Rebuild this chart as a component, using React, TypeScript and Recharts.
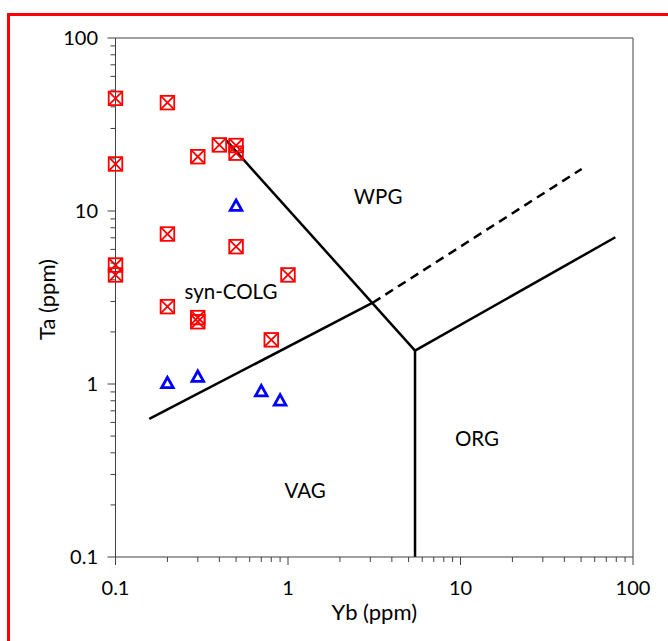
import React from 'react';
import { ScatterChart, Scatter, XAxis, YAxis, ReferenceLine, ReferenceDot } from 'recharts';

const FONT = 'Lato, "Open Sans", sans-serif';
const AXIS = '#404040';

// tick values
const majorTicks = [0.1, 1, 10, 100];
const minorTicks = [0.2, 0.3, 0.4, 0.5, 0.6, 0.7, 0.8, 0.9, 2, 3, 4, 5, 6, 7, 8, 9, 20, 30, 40, 50, 60, 70, 80, 90];
const allTicks = [...majorTicks, ...minorTicks].sort((a, b) => a - b);
const tickLabels = ['0.1', '1', '10', '100'];

// sample series (red boxed crosses)
const redYb = [0.1, 0.1, 0.1, 0.1, 0.2, 0.2, 0.2, 0.3, 0.3, 0.3, 0.4, 0.5, 0.5, 0.5, 1.0, 0.8];
const redTa = [44.8, 18.7, 4.87, 4.27, 42.3, 7.36, 2.8, 20.6, 2.42, 2.29, 24.1, 23.9, 21.6, 6.22, 4.27, 1.8];

// sample series (blue triangles)
const blueYb = [0.5, 0.2, 0.3, 0.7, 0.9];
const blueTa = [10.8, 1.02, 1.11, 0.915, 0.81];

// field boundaries
const vagColgX = [0.157, 3.1];
const vagColgY = [0.628, 2.95];
const dashedX = [3.1, 50.4];
const dashedY = [2.95, 17.5];
const wpgX = [0.44, 5.45];
const wpgY = [25.5, 1.56];
const orgVertX = [5.45, 5.45];
const orgVertY = [1.56, 0.1];
const orgWpgX = [5.45, 79];
const orgWpgY = [1.56, 7.05];

// field names
const fieldNames = ['WPG', 'syn-COLG', 'VAG', 'ORG'];
const fieldX = [3.33, 0.467, 1.255, 12.46];
const fieldY = [12.05, 3.4, 0.2406, 0.481];

const redData = redYb.map((x, i) => ({ yb: x, ta: redTa[i] }));
const blueData = blueYb.map((x, i) => ({ yb: x, ta: blueTa[i] }));

const isMajor = (v: number) => majorTicks.some((m) => Math.abs(m - v) < 1e-9);
const labelOf = (v: number) => {
  const i = majorTicks.findIndex((m) => Math.abs(m - v) < 1e-9);
  return i >= 0 ? tickLabels[i] : '';
};

const textStyle = { fontFamily: FONT, fontSize: 20, fill: '#000' };
const fieldStyle = { fontFamily: FONT, fontSize: 20.5, fill: '#000' };
const titleStyle = { fontFamily: FONT, fontSize: 22, fill: '#000' };

const BottomTick = (props: any) => {
  const { x, y, payload } = props;
  const major = isMajor(payload.value);
  return (
    <g>
      <line x1={x} x2={x} y1={y} y2={y + (major ? 8 : 5)} stroke={AXIS} strokeWidth={1} />
      {major && (
        <text x={x} y={y + 38} textAnchor="middle" style={textStyle}>
          {labelOf(payload.value)}
        </text>
      )}
    </g>
  );
};

const TopTick = (props: any) => {
  const { x, y } = props;
  return (
    <g>
      <line x1={x} x2={x} y1={y} y2={y + 8} stroke={AXIS} strokeWidth={1} />
    </g>
  );
};

const LeftTick = (props: any) => {
  const { x, y, payload } = props;
  const major = isMajor(payload.value);
  return (
    <g>
      <line x1={x} x2={x - (major ? 8 : 5)} y1={y} y2={y} stroke={AXIS} strokeWidth={1} />
      {major && (
        <text x={x - 17.5} y={y + 6.5} textAnchor="end" style={textStyle}>
          {labelOf(payload.value)}
        </text>
      )}
    </g>
  );
};

const RightTick = (props: any) => {
  const { x, y, payload } = props;
  const major = isMajor(payload.value);
  return (
    <g>
      <line x1={x} x2={x - (major ? 8 : 5)} y1={y} y2={y} stroke={AXIS} strokeWidth={1} />
    </g>
  );
};

const BoxX = (props: any) => {
  const { cx, cy } = props;
  if (cx == null || cy == null) return null;
  const h = 6.8;
  return (
    <g stroke="#ff0000" strokeWidth={1.8} fill="none">
      <rect x={cx - h} y={cy - h} width={2 * h} height={2 * h} />
      <line x1={cx - h} y1={cy - h} x2={cx + h} y2={cy + h} />
      <line x1={cx - h} y1={cy + h} x2={cx + h} y2={cy - h} />
    </g>
  );
};

const Tri = (props: any) => {
  const { cx, cy } = props;
  if (cx == null || cy == null) return null;
  const w = 5.8;
  const h = 5.2;
  return (
    <polygon
      points={`${cx},${cy - h} ${cx + w},${cy + h} ${cx - w},${cy + h}`}
      fill="#fff"
      stroke="#0000ff"
      strokeWidth={2.8}
      strokeLinejoin="miter"
    />
  );
};

const seg = (xs: number[], ys: number[]) => [
  { x: xs[0], y: ys[0] },
  { x: xs[1], y: ys[1] },
];

const XTitle = () => (
  <text x={374.25} y={620} textAnchor="middle" style={titleStyle}>
    Yb (ppm)
  </text>
);

const YTitle = () => {
  const cx = 55;
  const cy = 299.5;
  return (
    <text x={cx} y={cy} textAnchor="middle" transform={`rotate(-90, ${cx}, ${cy})`} style={titleStyle}>
      Ta (ppm)
    </text>
  );
};

export default function App() {
  const lineProps = { xAxisId: 'b', yAxisId: 'l', stroke: '#000', strokeWidth: 2.5, ifOverflow: 'visible' as const };
  return (
    <div style={{ position: 'absolute', left: 0, top: 0, width: 668, height: 641, overflow: 'hidden', background: '#fff' }}>
      <div
        style={{
          position: 'absolute',
          left: 7,
          top: 13,
          width: 720,
          height: 720,
          border: '3px solid #ff0000',
          boxSizing: 'border-box',
        }}
      />
      <div style={{ position: 'absolute', left: 0, top: 0 }}>
        <ScatterChart width={668} height={641} margin={{ top: 28, right: 25, bottom: 0, left: 0 }}>
          <XAxis
            xAxisId="b"
            dataKey="yb"
            type="number"
            scale="log"
            domain={[0.1, 100]}
            ticks={allTicks}
            interval={0}
            orientation="bottom"
            height={84}
            tickSize={0}
            tickMargin={0}
            tickLine={false}
            tick={<BottomTick />}
            axisLine={{ stroke: AXIS, strokeWidth: 1 }}
            label={XTitle}
          />
          <XAxis
            xAxisId="t"
            dataKey="yb"
            type="number"
            scale="log"
            domain={[0.1, 100]}
            ticks={majorTicks}
            interval={0}
            orientation="top"
            height={10}
            tickSize={0}
            tickMargin={0}
            tickLine={false}
            tick={<TopTick />}
            axisLine={{ stroke: AXIS, strokeWidth: 1 }}
          />
          <YAxis
            yAxisId="l"
            dataKey="ta"
            type="number"
            scale="log"
            domain={[0.1, 100]}
            ticks={allTicks}
            interval={0}
            orientation="left"
            width={115.5}
            tickSize={0}
            tickMargin={0}
            tickLine={false}
            tick={<LeftTick />}
            axisLine={{ stroke: AXIS, strokeWidth: 1 }}
            label={YTitle}
          />
          <YAxis
            yAxisId="r"
            dataKey="ta"
            type="number"
            scale="log"
            domain={[0.1, 100]}
            ticks={allTicks}
            interval={0}
            orientation="right"
            width={10}
            tickSize={0}
            tickMargin={0}
            tickLine={false}
            tick={<RightTick />}
            axisLine={{ stroke: AXIS, strokeWidth: 1 }}
          />

          <ReferenceLine {...lineProps} segment={seg(vagColgX, vagColgY)} />
          <ReferenceLine {...lineProps} segment={seg(dashedX, dashedY)} strokeDasharray="9 6" />
          <ReferenceLine {...lineProps} segment={seg(wpgX, wpgY)} />
          <ReferenceLine {...lineProps} segment={seg(orgVertX, orgVertY)} />
          <ReferenceLine {...lineProps} segment={seg(orgWpgX, orgWpgY)} />

          {fieldNames.map((name, i) => (
            <ReferenceDot
              key={name}
              xAxisId="b"
              yAxisId="l"
              x={fieldX[i]}
              y={fieldY[i]}
              r={0}
              ifOverflow="visible"
              shape={(p: any) => (
                <text x={p.cx} y={p.cy + 7} textAnchor="middle" style={fieldStyle}>
                  {name}
                </text>
              )}
            />
          ))}

          <Scatter xAxisId="b" yAxisId="l" data={redData} shape={<BoxX />} isAnimationActive={false} />
          <Scatter xAxisId="b" yAxisId="l" data={blueData} shape={<Tri />} isAnimationActive={false} />
        </ScatterChart>
      </div>
    </div>
  );
}
